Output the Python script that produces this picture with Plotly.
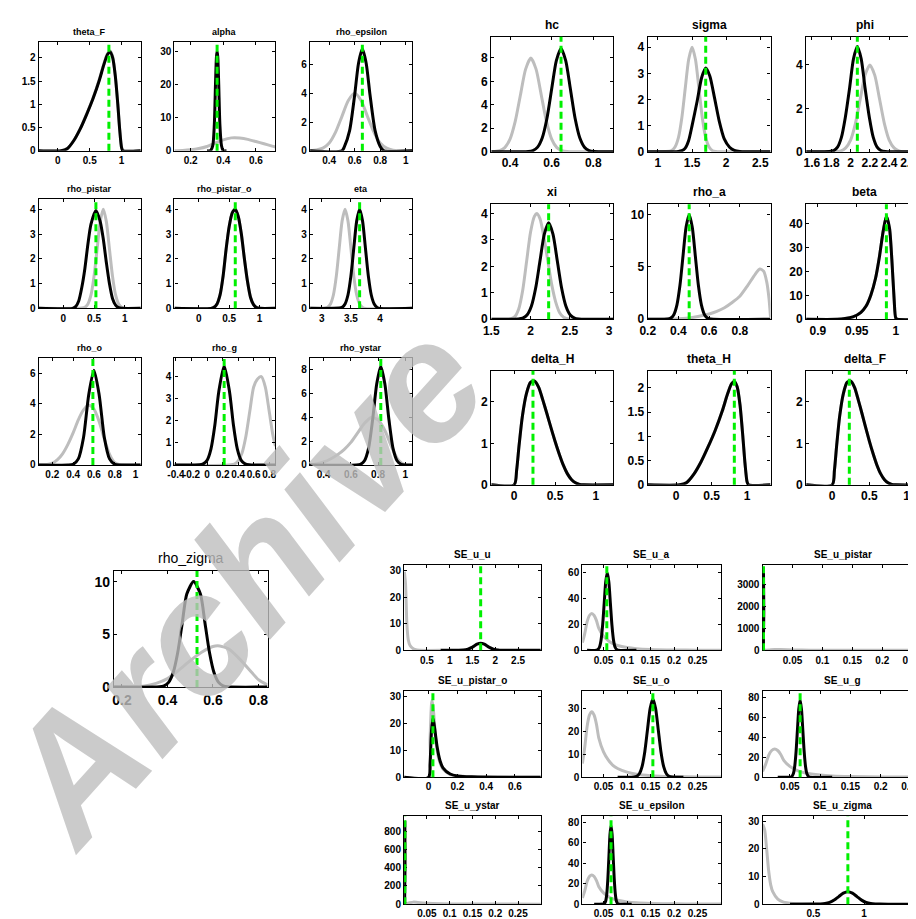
import plotly.graph_objects as go

W, H = 916, 919

# ======================= DATA =======================
# ---- top-left group ----
theta_F_px = [-0.3, 0.05, 0.15, 0.25, 0.35, 0.45, 0.55, 0.65, 0.72, 0.78, 0.82, 0.86, 0.9, 0.94, 0.97, 1.0, 1.02, 1.3]
theta_F_py = [0, 0, 0.05, 0.22, 0.47, 0.79, 1.13, 1.54, 1.87, 2.1, 2.15, 2.02, 1.63, 1.0, 0.45, 0.06, 0, 0]
theta_F_qx = theta_F_px
theta_F_qy = [0, 0, 0.05, 0.22, 0.47, 0.78, 1.12, 1.52, 1.85, 2.08, 2.13, 2.0, 1.62, 1.0, 0.45, 0.06, 0, 0]
theta_F_mode = 0.8

alpha_px = [0.1, 0.15, 0.2, 0.25, 0.3, 0.35, 0.4, 0.45, 0.47, 0.5, 0.55, 0.6, 0.65, 0.7, 0.72]
alpha_py = [0.03, 0.1, 0.28, 0.65, 1.3, 2.3, 3.3, 3.9, 3.95, 3.85, 3.45, 2.8, 2.1, 1.4, 1.15]
alpha_qx = [0.3, 0.32, 0.335, 0.345, 0.352, 0.358, 0.362, 0.366, 0.372, 0.379, 0.389, 0.40, 0.42]
alpha_qy = [0, 0, 1.5, 8, 20, 28.5, 30, 28.5, 20, 8, 1.5, 0, 0]
alpha_mode = 0.362

rho_epsilon_px = [0.25, 0.3, 0.35, 0.4, 0.45, 0.5, 0.55, 0.6, 0.65, 0.7, 0.75, 0.8, 0.85, 0.9, 1.05]
rho_epsilon_py = [0, 0.05, 0.18, 0.54, 1.3, 2.4, 3.5, 4.0, 3.5, 2.4, 1.3, 0.54, 0.18, 0.04, 0]
rho_epsilon_qx = [0.25, 0.5, 0.52, 0.56, 0.6, 0.63, 0.66, 0.69, 0.72, 0.76, 0.8, 0.83, 1.05]
rho_epsilon_qy = [0, 0, 0.3, 1.4, 3.9, 6.1, 7.1, 6.1, 3.9, 1.4, 0.3, 0, 0]
rho_epsilon_mode = 0.66

rho_pistar_px = [-0.4, 0.3, 0.35, 0.4, 0.45, 0.5, 0.55, 0.6, 0.65, 0.7, 0.75, 0.8, 0.85, 0.9, 0.95, 1.0, 1.26]
rho_pistar_py = [0, 0.01, 0.04, 0.18, 0.54, 1.3, 2.4, 3.5, 4.0, 3.5, 2.4, 1.3, 0.54, 0.18, 0.04, 0, 0]
rho_pistar_qx = [-0.4, 0.15, 0.2, 0.25, 0.3, 0.35, 0.4, 0.45, 0.53, 0.6, 0.65, 0.7, 0.75, 0.8, 0.85, 0.9, 0.95, 1.26]
rho_pistar_qy = [0, 0, 0.07, 0.3, 0.84, 1.6, 2.6, 3.4, 3.95, 3.5, 2.8, 1.85, 1.0, 0.4, 0.13, 0.03, 0, 0]
rho_pistar_mode = 0.53

rho_pistar_o_qx = [-0.4, 0.2, 0.25, 0.3, 0.35, 0.4, 0.45, 0.5, 0.55, 0.6, 0.65, 0.7, 0.75, 0.8, 0.85, 0.9, 0.95, 1.0, 1.26]
rho_pistar_o_qy = [0, 0, 0.04, 0.18, 0.54, 1.3, 2.4, 3.3, 3.85, 4.0, 3.7, 3.0, 2.0, 1.1, 0.45, 0.15, 0.03, 0, 0]
rho_pistar_o_px = rho_pistar_o_qx
rho_pistar_o_py = rho_pistar_o_qy
rho_pistar_o_mode = 0.6

eta_px = [2.8, 3.05, 3.1, 3.15, 3.2, 3.25, 3.3, 3.35, 3.4, 3.45, 3.5, 3.55, 3.6, 3.65, 3.7, 3.75, 4.55]
eta_py = [0, 0.01, 0.04, 0.18, 0.54, 1.3, 2.43, 3.53, 4.0, 3.53, 2.43, 1.3, 0.54, 0.18, 0.04, 0, 0]
eta_qx = [2.8, 3.3, 3.35, 3.4, 3.45, 3.5, 3.55, 3.6, 3.65, 3.7, 3.75, 3.8, 3.85, 3.9, 3.95, 4.0, 4.55]
eta_qy = [0, 0.01, 0.04, 0.18, 0.54, 1.3, 2.43, 3.53, 4.0, 3.53, 2.43, 1.3, 0.54, 0.18, 0.04, 0, 0]
eta_mode = 3.65

rho_o_px = [0.07, 0.15, 0.2, 0.25, 0.3, 0.35, 0.4, 0.45, 0.5, 0.55, 0.6, 0.65, 0.7, 0.75, 0.8, 0.85, 1.05]
rho_o_py = [0, 0.03, 0.12, 0.35, 0.75, 1.35, 2.1, 2.95, 3.6, 3.9, 3.65, 2.85, 1.7, 0.7, 0.15, 0.01, 0]
rho_o_qx = [0.07, 0.35, 0.4, 0.45, 0.5, 0.55, 0.6, 0.65, 0.7, 0.75, 0.8, 0.85, 1.05]
rho_o_qy = [0, 0, 0.05, 0.4, 1.8, 4.6, 6.2, 4.6, 1.8, 0.4, 0.05, 0, 0]
rho_o_mode = 0.59

rho_g_px = [-0.42, 0.35, 0.4, 0.45, 0.5, 0.55, 0.6, 0.65, 0.7, 0.75, 0.8, 0.85, 0.88]
rho_g_py = [0, 0.04, 0.18, 0.54, 1.3, 2.43, 3.53, 3.9, 4.0, 3.53, 2.43, 1.3, 0.85]
rho_g_qx = [-0.42, -0.1, -0.05, 0.0, 0.05, 0.1, 0.15, 0.22, 0.29, 0.34, 0.39, 0.44, 0.49, 0.54, 0.88]
rho_g_qy = [0, 0.01, 0.05, 0.21, 0.72, 1.8, 3.3, 4.5, 3.3, 1.8, 0.72, 0.21, 0.05, 0.01, 0]
rho_g_mode = 0.22

rho_ystar_px = [0.3, 0.35, 0.4, 0.45, 0.5, 0.55, 0.6, 0.65, 0.7, 0.75, 0.8, 0.85, 0.9, 0.95, 1.0, 1.05]
rho_ystar_py = [0.02, 0.1, 0.25, 0.5, 0.85, 1.3, 1.9, 2.7, 3.5, 4.0, 3.8, 2.9, 1.5, 0.4, 0, 0]
rho_ystar_qx = [0.3, 0.64, 0.67, 0.7, 0.73, 0.76, 0.79, 0.82, 0.85, 0.88, 0.91, 0.94, 0.97, 1.0, 1.05]
rho_ystar_qy = [0, 0, 0.06, 0.36, 1.4, 3.8, 6.8, 8.3, 6.8, 3.8, 1.4, 0.36, 0.06, 0, 0]
rho_ystar_mode = 0.82

# ---- top-right group ----
hc_px = [0.31, 0.325, 0.35, 0.375, 0.4, 0.425, 0.45, 0.475, 0.5, 0.525, 0.55, 0.575, 0.6, 0.625, 0.65, 0.675, 0.7, 0.895]
hc_py = [0, 0.02, 0.09, 0.35, 1.08, 2.59, 4.84, 7.04, 7.98, 7.04, 4.84, 2.59, 1.08, 0.35, 0.09, 0.02, 0, 0]
hc_qx = [0.31, 0.4875, 0.51, 0.5325, 0.555, 0.5775, 0.6, 0.6225, 0.645, 0.6675, 0.69, 0.7125, 0.735, 0.7575, 0.78, 0.8025, 0.895]
hc_qy = [0, 0.02, 0.1, 0.39, 1.19, 2.85, 5.34, 7.77, 8.8, 7.77, 5.34, 2.85, 1.19, 0.39, 0.1, 0.02, 0]
hc_mode = 0.645

sigma_px = [0.85, 1.2, 1.25, 1.3, 1.35, 1.4, 1.45, 1.5, 1.55, 1.6, 1.65, 1.7, 1.75, 1.8, 1.85, 1.9, 2.65]
sigma_py = [0, 0.04, 0.18, 0.54, 1.3, 2.43, 3.53, 4.0, 3.53, 2.43, 1.3, 0.54, 0.18, 0.04, 0.01, 0, 0]
sigma_qx = [0.85, 1.3, 1.35, 1.4, 1.45, 1.5, 1.575, 1.64, 1.7, 1.76, 1.83, 1.9, 1.97, 2.05, 2.12, 2.2, 2.3, 2.65]
sigma_qy = [0, 0.01, 0.04, 0.14, 0.43, 1.0, 1.94, 2.83, 3.2, 2.9, 2.05, 1.15, 0.5, 0.17, 0.05, 0.01, 0, 0]
sigma_mode = 1.7

phi_px = [1.54, 1.9, 1.95, 2.0, 2.05, 2.1, 2.15, 2.2, 2.25, 2.3, 2.35, 2.4, 2.45, 2.5, 2.55, 2.75]
phi_py = [0, 0.04, 0.18, 0.54, 1.3, 2.43, 3.53, 4.0, 3.53, 2.43, 1.3, 0.54, 0.18, 0.04, 0, 0]
phi_qx = [1.54, 1.78, 1.825, 1.865, 1.905, 1.945, 1.99, 2.03, 2.07, 2.11, 2.15, 2.195, 2.235, 2.275, 2.315, 2.36, 2.75]
phi_qy = [0, 0.01, 0.05, 0.21, 0.66, 1.57, 2.94, 4.28, 4.85, 4.28, 2.94, 1.57, 0.66, 0.21, 0.05, 0.01, 0]
phi_mode = 2.07

xi_px = [1.5, 1.75, 1.8, 1.85, 1.9, 1.95, 2.0, 2.05, 2.08, 2.12, 2.17, 2.22, 2.27, 2.32, 2.37, 2.42, 2.5, 3.05]
xi_py = [0, 0.02, 0.1, 0.4, 1.1, 2.2, 3.3, 3.9, 4.0, 3.8, 3.1, 2.2, 1.3, 0.65, 0.25, 0.08, 0, 0]
xi_qx = [1.5, 1.845, 1.9, 1.955, 2.01, 2.065, 2.12, 2.175, 2.23, 2.285, 2.34, 2.395, 2.45, 2.505, 2.56, 2.615, 3.05]
xi_qy = [0, 0.01, 0.04, 0.16, 0.49, 1.18, 2.21, 3.22, 3.65, 3.22, 2.21, 1.18, 0.49, 0.16, 0.04, 0.01, 0]
xi_mode = 2.23

rho_a_px = [0.2, 0.35, 0.4, 0.45, 0.5, 0.55, 0.6, 0.65, 0.7, 0.75, 0.8, 0.85, 0.9, 0.93, 0.955, 0.975, 0.99, 1.0]
rho_a_py = [0, 0.02, 0.05, 0.1, 0.2, 0.33, 0.5, 0.75, 1.1, 1.6, 2.2, 3.2, 4.3, 4.8, 4.6, 3.6, 2.0, 0.2]
rho_a_qx = [0.2, 0.33, 0.35, 0.37, 0.39, 0.41, 0.43, 0.45, 0.47, 0.49, 0.51, 0.53, 0.55, 0.57, 0.59, 0.61, 1.0]
rho_a_qy = [0, 0.02, 0.11, 0.44, 1.35, 3.25, 6.07, 8.82, 10, 8.82, 6.07, 3.25, 1.35, 0.44, 0.11, 0.02, 0]
rho_a_mode = 0.47

beta_qx = [0.885, 0.925, 0.935, 0.945, 0.955, 0.962, 0.968, 0.974, 0.979, 0.984, 0.988, 0.992, 0.995, 0.998, 1.0, 1.002, 1.04]
beta_qy = [0, 0, 0.3, 1.0, 2.8, 5.5, 10, 17, 26, 37, 43, 38, 25, 8, 0.5, 0, 0]
beta_px = beta_qx
beta_py = beta_qy
beta_mode = 0.988

delta_H_qx = [-0.28, 0, 0.03, 0.06, 0.1, 0.15, 0.2, 0.25, 0.3, 0.35, 0.4, 0.45, 0.5, 0.55, 0.6, 0.65, 0.7, 0.75, 0.8, 0.85, 1.21]
delta_H_qy = [0, 0, 0.35, 0.95, 1.65, 2.2, 2.47, 2.5, 2.35, 2.05, 1.72, 1.38, 1.05, 0.75, 0.48, 0.27, 0.13, 0.05, 0.01, 0, 0]
delta_H_px = delta_H_qx
delta_H_py = delta_H_qy
delta_H_mode = 0.23

theta_H_qx = [-0.4, 0.05, 0.15, 0.25, 0.35, 0.45, 0.55, 0.65, 0.72, 0.78, 0.82, 0.86, 0.9, 0.94, 0.97, 1.0, 1.02, 1.33]
theta_H_qy = [0, 0, 0.05, 0.22, 0.47, 0.78, 1.12, 1.52, 1.85, 2.08, 2.13, 2.02, 1.65, 1.0, 0.45, 0.06, 0, 0]
theta_H_px = theta_H_qx
theta_H_py = theta_H_qy
theta_H_mode = 0.82

delta_F_qx = [-0.35, 0, 0.03, 0.06, 0.1, 0.15, 0.2, 0.25, 0.3, 0.35, 0.4, 0.45, 0.5, 0.55, 0.6, 0.65, 0.7, 0.75, 0.8, 0.85, 1.25]
delta_F_qy = [0, 0, 0.35, 0.95, 1.65, 2.2, 2.47, 2.5, 2.35, 2.05, 1.72, 1.38, 1.05, 0.75, 0.48, 0.27, 0.13, 0.05, 0.01, 0, 0]
delta_F_px = delta_F_qx
delta_F_py = delta_F_qy
delta_F_mode = 0.23

# ---- bottom-left ----
rho_zigma_px = [0.165, 0.3, 0.35, 0.4, 0.45, 0.5, 0.55, 0.6, 0.63, 0.67, 0.72, 0.77, 0.8, 0.84]
rho_zigma_py = [0, 0.1, 0.35, 0.8, 1.6, 2.5, 3.3, 3.85, 3.9, 3.6, 2.6, 1.4, 0.7, 0.2]
rho_zigma_qx = [0.165, 0.365, 0.385, 0.405, 0.425, 0.445, 0.465, 0.485, 0.515, 0.545, 0.565, 0.585, 0.605, 0.625, 0.645, 0.665, 0.84]
rho_zigma_qy = [0, 0.02, 0.11, 0.44, 1.35, 3.25, 6.07, 8.82, 10, 8.82, 6.07, 3.25, 1.35, 0.44, 0.11, 0.02, 0]
rho_zigma_mode = 0.53

# ---- bottom-right group ----
SE_u_u_px = [0.005, 0.03, 0.06, 0.09, 0.13, 0.2, 0.28, 0.35, 0.8]
SE_u_u_py = [29.5, 25, 10, 4, 1.8, 0.6, 0.1, 0, 0]
SE_u_u_qx = [0.8, 1.2, 1.3, 1.4, 1.5, 1.6, 1.68, 1.76, 1.86, 1.96, 2.06, 2.16, 2.3, 3.0]
SE_u_u_qy = [0, 0.02, 0.11, 0.47, 1.2, 2.3, 2.7, 2.3, 1.2, 0.47, 0.11, 0.02, 0, 0]
SE_u_u_mode = 1.68

ig_prior_x = [0.005, 0.01, 0.015, 0.02, 0.025, 0.03, 0.035, 0.04, 0.05, 0.06, 0.07, 0.08, 0.1, 0.12, 0.15, 0.2, 0.25, 0.3]
ig_prior_y = [6, 13, 22, 27, 28.5, 27, 23, 17, 11, 7.5, 5.2, 3.8, 2.2, 1.3, 0.7, 0.3, 0.15, 0.08]

SE_u_a_qx = [0.015, 0.035, 0.0382, 0.0415, 0.0448, 0.0481, 0.0514, 0.0547, 0.058, 0.0613, 0.0646, 0.0679, 0.0712, 0.0745, 0.0778, 0.081, 0.12]
SE_u_a_qy = [0, 0.13, 0.67, 2.6, 8.1, 19.5, 36.4, 53, 60, 53, 36.4, 19.5, 8.1, 2.6, 0.67, 0.13, 0]
SE_u_a_mode = 0.057

SE_u_pistar_px = [0.0, 0.01, 0.02, 0.03, 0.05, 0.08, 0.12, 0.2, 0.3]
SE_u_pistar_py = [0, 15, 40, 35, 20, 8, 3, 1, 0]
SE_u_pistar_qx = [0.0005, 0.001, 0.0015, 0.002, 0.0025, 0.004]
SE_u_pistar_qy = [0, 1800, 3600, 1800, 0, 0]
SE_u_pistar_mode = 0.0015

SE_u_pistar_o_px = [-0.17, 0, 0.01, 0.02, 0.025, 0.035, 0.05, 0.07, 0.1, 0.15, 0.25, 0.5, 0.78]
SE_u_pistar_o_py = [0, 0, 14, 27, 28.5, 24, 14, 7, 3, 1, 0.3, 0.05, 0]
SE_u_pistar_o_qx = [-0.17, 0, 0.01, 0.02, 0.03, 0.04, 0.06, 0.08, 0.1, 0.15, 0.2, 0.3, 0.5, 0.78]
SE_u_pistar_o_qy = [0, 0, 5, 17, 22, 19, 11, 6, 3.5, 1.2, 0.5, 0.15, 0.02, 0]
SE_u_pistar_o_mode = 0.03

SE_u_o_qx = [0.08, 0.115, 0.1205, 0.12625, 0.132, 0.13775, 0.1435, 0.14925, 0.155, 0.16075, 0.1665, 0.17225, 0.178, 0.18375, 0.1895, 0.195, 0.22]
SE_u_o_qy = [0, 0.07, 0.38, 1.5, 4.6, 11, 20.6, 30, 34, 30, 20.6, 11, 4.6, 1.5, 0.38, 0.07, 0]
SE_u_o_mode = 0.155

SE_u_g_qx = [0.03, 0.0512, 0.0535, 0.05575, 0.058, 0.06025, 0.0625, 0.06475, 0.067, 0.06925, 0.0715, 0.07375, 0.076, 0.07825, 0.0805, 0.0828, 0.12]
SE_u_g_qy = [0, 0.15, 0.86, 3.4, 10.6, 25.3, 47.3, 68.8, 78, 68.8, 47.3, 25.3, 10.6, 3.4, 0.86, 0.15, 0]
SE_u_g_mode = 0.067

SE_u_ystar_px = [0.0, 0.01, 0.02, 0.03, 0.05, 0.08, 0.12, 0.2, 0.3]
SE_u_ystar_py = [0, 12, 22, 18, 10, 4, 1.5, 0.5, 0.1]
SE_u_ystar_qx = [0.0005, 0.001, 0.0015, 0.002, 0.0025, 0.004]
SE_u_ystar_qy = [0, 450, 900, 450, 0, 0]
SE_u_ystar_mode = 0.0015

SE_u_epsilon_qx = [0.03, 0.0502, 0.0525, 0.05475, 0.057, 0.05925, 0.0615, 0.06375, 0.066, 0.06825, 0.0705, 0.07275, 0.075, 0.07725, 0.0795, 0.0818, 0.11]
SE_u_epsilon_qy = [0, 0.15, 0.85, 3.3, 10.4, 25, 46.7, 68, 77, 68, 46.7, 25, 10.4, 3.3, 0.85, 0.15, 0]
SE_u_epsilon_mode = 0.066

SE_u_zigma_px = [0.0, 0.02, 0.04, 0.06, 0.08, 0.1, 0.15, 0.2, 0.3, 0.4, 0.5]
SE_u_zigma_py = [29, 27, 20, 12, 7, 4.5, 1.8, 0.8, 0.2, 0.05, 0]
SE_u_zigma_qx = [0.27, 0.525, 0.57, 0.615, 0.66, 0.705, 0.75, 0.795, 0.84, 0.885, 0.93, 0.975, 1.02, 1.065, 1.11, 1.155, 1.3, 1.62]
SE_u_zigma_qy = [0, 0.01, 0.05, 0.2, 0.61, 1.46, 2.73, 3.97, 4.5, 3.97, 2.73, 1.46, 0.61, 0.2, 0.05, 0.01, 0, 0]
SE_u_zigma_mode = 0.84

# ======================= LAYOUT / STYLE =======================
FONT = "Liberation Sans"
GRAY = "#bdbdbd"
GREEN = "#00f000"

STY = {
    "tl": dict(title=9, tick=10, tbold=True),
    "tr": dict(title=12, tick=12, tbold=True),
    "bl": dict(title=14, tick=14, tbold=False),
    "br": dict(title=10, tick=10, tbold=True),
}

TLc = [(23, 126), (160, 262), (297, 400)]
TLr = [(34, 144), (193, 303), (353, 461)]
TRc = [(480, 603), (638, 762), (798, 916)]
TRr = [(29, 145), (198, 314), (366, 481)]
BRc = [(392, 530), (572, 712), (754, 916)]
BRr = [(562, 648), (689, 776), (815, 904)]

def P(name, prior, post, mode, xr, yr, xt, yt, box, grp, cut=False):
    return dict(name=name, prior=prior, post=post, mode=mode, xr=xr, yr=yr,
                xt=xt, yt=yt, box=box, grp=grp, cut=cut)

panels = [
    P("theta_F", (theta_F_px, theta_F_py), (theta_F_qx, theta_F_qy), theta_F_mode, [-0.3, 1.3], [0, 2.35], [0, 0.5, 1], [0, 0.5, 1, 1.5, 2], TLc[0] + TLr[0], "tl"),
    P("alpha", (alpha_px, alpha_py), (alpha_qx, alpha_qy), alpha_mode, [0.1, 0.72], [0, 33], [0.2, 0.4, 0.6], [0, 10, 20, 30], TLc[1] + TLr[0], "tl"),
    P("rho_epsilon", (rho_epsilon_px, rho_epsilon_py), (rho_epsilon_qx, rho_epsilon_qy), rho_epsilon_mode, [0.25, 1.05], [0, 7.6], [0.4, 0.6, 0.8, 1], [0, 2, 4, 6], TLc[2] + TLr[0], "tl"),
    P("rho_pistar", (rho_pistar_px, rho_pistar_py), (rho_pistar_qx, rho_pistar_qy), rho_pistar_mode, [-0.4, 1.26], [0, 4.4], [0, 0.5, 1], [0, 1, 2, 3, 4], TLc[0] + TLr[1], "tl"),
    P("rho_pistar_o", (rho_pistar_o_px, rho_pistar_o_py), (rho_pistar_o_qx, rho_pistar_o_qy), rho_pistar_o_mode, [-0.4, 1.26], [0, 4.4], [0, 0.5, 1], [0, 1, 2, 3, 4], TLc[1] + TLr[1], "tl"),
    P("eta", (eta_px, eta_py), (eta_qx, eta_qy), eta_mode, [2.8, 4.55], [0, 4.4], [3, 3.5, 4], [0, 1, 2, 3, 4], TLc[2] + TLr[1], "tl"),
    P("rho_o", (rho_o_px, rho_o_py), (rho_o_qx, rho_o_qy), rho_o_mode, [0.07, 1.05], [0, 7], [0.2, 0.4, 0.6, 0.8, 1], [0, 2, 4, 6], TLc[0] + TLr[2], "tl"),
    P("rho_g", (rho_g_px, rho_g_py), (rho_g_qx, rho_g_qy), rho_g_mode, [-0.42, 0.88], [0, 4.85], [-0.4, -0.2, 0, 0.2, 0.4, 0.6, 0.8], [0, 1, 2, 3, 4], TLc[1] + TLr[2], "tl"),
    P("rho_ystar", (rho_ystar_px, rho_ystar_py), (rho_ystar_qx, rho_ystar_qy), rho_ystar_mode, [0.3, 1.05], [0, 9], [0.4, 0.6, 0.8, 1], [0, 2, 4, 6, 8], TLc[2] + TLr[2], "tl"),

    P("hc", (hc_px, hc_py), (hc_qx, hc_qy), hc_mode, [0.31, 0.895], [0, 9.8], [0.4, 0.6, 0.8], [0, 2, 4, 6, 8], TRc[0] + TRr[0], "tr"),
    P("sigma", (sigma_px, sigma_py), (sigma_qx, sigma_qy), sigma_mode, [0.85, 2.65], [0, 4.4], [1, 1.5, 2, 2.5], [0, 1, 2, 3, 4], TRc[1] + TRr[0], "tr"),
    P("phi", (phi_px, phi_py), (phi_qx, phi_qy), phi_mode, [1.54, 2.75], [0, 5.3], [1.6, 1.8, 2, 2.2, 2.4, 2.6], [0, 2, 4], TRc[2] + TRr[0], "tr", True),
    P("xi", (xi_px, xi_py), (xi_qx, xi_qy), xi_mode, [1.5, 3.05], [0, 4.35], [1.5, 2, 2.5, 3], [0, 1, 2, 3, 4], TRc[0] + TRr[1], "tr"),
    P("rho_a", (rho_a_px, rho_a_py), (rho_a_qx, rho_a_qy), rho_a_mode, [0.2, 1.0], [0, 11], [0.2, 0.4, 0.6, 0.8], [0, 5, 10], TRc[1] + TRr[1], "tr"),
    P("beta", (beta_px, beta_py), (beta_qx, beta_qy), beta_mode, [0.885, 1.035], [0, 48], [0.9, 0.95, 1], [0, 10, 20, 30, 40], TRc[2] + TRr[1], "tr", True),
    P("delta_H", (delta_H_px, delta_H_py), (delta_H_qx, delta_H_qy), delta_H_mode, [-0.28, 1.21], [0, 2.75], [0, 0.5, 1], [0, 1, 2], TRc[0] + TRr[2], "tr"),
    P("theta_H", (theta_H_px, theta_H_py), (theta_H_qx, theta_H_qy), theta_H_mode, [-0.4, 1.33], [0, 2.35], [0, 0.5, 1], [0, 0.5, 1, 1.5, 2], TRc[1] + TRr[2], "tr"),
    P("delta_F", (delta_F_px, delta_F_py), (delta_F_qx, delta_F_qy), delta_F_mode, [-0.35, 1.22], [0, 2.75], [0, 0.5, 1], [0, 1, 2], TRc[2] + TRr[2], "tr", True),

    P("rho_zigma", (rho_zigma_px, rho_zigma_py), (rho_zigma_qx, rho_zigma_qy), rho_zigma_mode, [0.165, 0.84], [0, 11], [0.2, 0.4, 0.6, 0.8], [0, 5, 10], (99, 254, 568, 685), "bl"),

    P("SE_u_u", (SE_u_u_px, SE_u_u_py), (SE_u_u_qx, SE_u_u_qy), SE_u_u_mode, [0, 3.0], [0, 32], [0.5, 1, 1.5, 2, 2.5], [0, 10, 20, 30], BRc[0] + BRr[0], "br"),
    P("SE_u_a", (ig_prior_x, ig_prior_y), (SE_u_a_qx, SE_u_a_qy), SE_u_a_mode, [0.005, 0.3], [0, 66], [0.05, 0.1, 0.15, 0.2, 0.25], [0, 20, 40, 60], BRc[1] + BRr[0], "br"),
    P("SE_u_pistar", (SE_u_pistar_px, SE_u_pistar_py), (SE_u_pistar_qx, SE_u_pistar_qy), SE_u_pistar_mode, [0, 0.268], [0, 3900], [0.05, 0.1, 0.15, 0.2, 0.25], [0, 1000, 2000, 3000], BRc[2] + BRr[0], "br", True),
    P("SE_u_pistar_o", (SE_u_pistar_o_px, SE_u_pistar_o_py), (SE_u_pistar_o_qx, SE_u_pistar_o_qy), SE_u_pistar_o_mode, [-0.17, 0.78], [0, 32], [0, 0.2, 0.4, 0.6], [0, 10, 20, 30], BRc[0] + BRr[1], "br"),
    P("SE_u_o", (ig_prior_x, ig_prior_y), (SE_u_o_qx, SE_u_o_qy), SE_u_o_mode, [0.005, 0.3], [0, 37.5], [0.05, 0.1, 0.15, 0.2, 0.25], [0, 10, 20, 30], BRc[1] + BRr[1], "br"),
    P("SE_u_g", (ig_prior_x, ig_prior_y), (SE_u_g_qx, SE_u_g_qy), SE_u_g_mode, [0.005, 0.27], [0, 87], [0.05, 0.1, 0.15, 0.2, 0.25], [0, 20, 40, 60, 80], BRc[2] + BRr[1], "br", True),
    P("SE_u_ystar", (SE_u_ystar_px, SE_u_ystar_py), (SE_u_ystar_qx, SE_u_ystar_qy), SE_u_ystar_mode, [0, 0.3], [0, 970], [0.05, 0.1, 0.15, 0.2, 0.25], [0, 200, 400, 600, 800], BRc[0] + BRr[2], "br"),
    P("SE_u_epsilon", (ig_prior_x, ig_prior_y), (SE_u_epsilon_qx, SE_u_epsilon_qy), SE_u_epsilon_mode, [0.005, 0.3], [0, 86], [0.05, 0.1, 0.15, 0.2, 0.25], [0, 20, 40, 60, 80], BRc[1] + BRr[2], "br"),
    P("SE_u_zigma", (SE_u_zigma_px, SE_u_zigma_py), (SE_u_zigma_qx, SE_u_zigma_qy), SE_u_zigma_mode, [0, 1.58], [0, 32], [0.5, 1, 1.5], [0, 10, 20, 30], BRc[2] + BRr[2], "br", True),
]

fig = go.Figure()
layout = dict(width=W, height=H, margin=dict(l=0, r=0, t=0, b=0),
              paper_bgcolor="white", plot_bgcolor="white", showlegend=False,
              font=dict(family=FONT, color="black"))
annotations = []
shapes = []

def fmt(v):
    return "%g" % v

for i, p in enumerate(panels, start=1):
    sfx = "" if i == 1 else str(i)
    xa, ya = "x" + sfx, "y" + sfx
    st = STY[p["grp"]]
    x0, x1, y0, y1 = p["box"]
    twt = "bold" if st["tbold"] else "normal"
    px, py = p["prior"]
    qx, qy = p["post"]
    fig.add_trace(go.Scatter(x=px, y=py, mode="lines", xaxis=xa, yaxis=ya,
                             line=dict(color=GRAY, width=3, shape="spline", smoothing=0.7),
                             hoverinfo="skip"))
    fig.add_trace(go.Scatter(x=qx, y=qy, mode="lines", xaxis=xa, yaxis=ya,
                             line=dict(color="black", width=3, shape="spline", smoothing=0.7),
                             hoverinfo="skip"))
    tf = dict(family=FONT, size=st["tick"], color="black", weight="bold")
    layout["xaxis" + sfx] = dict(
        domain=[x0 / W, x1 / W], anchor=ya, range=p["xr"],
        tickmode="array", tickvals=p["xt"], ticktext=[fmt(v) for v in p["xt"]],
        tickangle=0, ticklabeloverflow="allow",
        ticks="inside", ticklen=3, tickwidth=1, tickcolor="black",
        showline=True, linecolor="black", linewidth=1.3, mirror="ticks",
        showgrid=False, zeroline=False, tickfont=tf)
    layout["yaxis" + sfx] = dict(
        domain=[1 - y1 / H, 1 - y0 / H], anchor=xa, range=p["yr"],
        tickmode="array", tickvals=p["yt"], ticktext=[fmt(v) for v in p["yt"]],
        tickangle=0, ticklabeloverflow="allow",
        ticks="inside", ticklen=3, tickwidth=1, tickcolor="black",
        showline=True, linecolor="black", linewidth=1.3,
        mirror=False if p["cut"] else "ticks",
        showgrid=False, zeroline=False, tickfont=tf)
    shapes.append(dict(type="line", xref=xa, yref=ya + " domain",
                       x0=p["mode"], x1=p["mode"], y0=0, y1=1,
                       line=dict(color=GREEN, width=3, dash="7px,4px"), layer="above"))
    annotations.append(dict(text=p["name"], xref="paper", yref="paper",
                            x=(x0 + x1) / 2 / W, y=1 - (y0 - 3) / H,
                            xanchor="center", yanchor="bottom", showarrow=False,
                            font=dict(family=FONT, size=st["title"], color="black", weight=twt)))

# watermark
annotations.append(dict(text="Archive", xref="paper", yref="paper",
                        x=228 / W, y=1 - 580 / H, xanchor="center", yanchor="middle",
                        showarrow=False, textangle=-48,
                        font=dict(family=FONT, size=170, color="rgba(190,190,190,0.8)",
                                  style="italic", weight="bold")))

layout["annotations"] = annotations
layout["shapes"] = shapes
fig.update_layout(**layout)
fig.write_html("out.html")
